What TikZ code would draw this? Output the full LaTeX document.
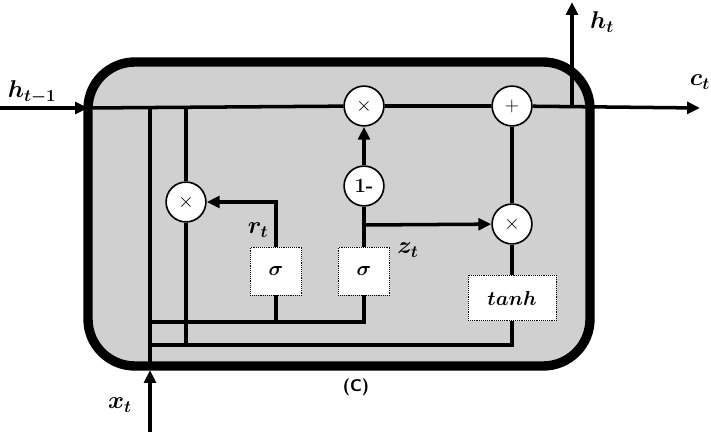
\documentclass[tikz,border=0pt]{standalone}
\usepackage{amsmath,bm}
\usetikzlibrary{arrows.meta}
\definecolor{cellgray}{RGB}{208,208,208}
\tikzstyle{op} = [draw, circle, fill=white, line width=1.4pt, minimum size=34, inner sep=0pt, font=\LARGE\bfseries]
\tikzstyle{gate} = [draw, densely dotted, line width=0.6pt, fill=white, inner sep=0pt, font=\LARGE\bfseries]
\begin{document}
\begin{tikzpicture}[x=0.03cm, y=-0.03cm, line width=3pt,
			arr/.style = {-{Triangle[length=11pt,width=10pt]}},
			lbl/.style = {font=\huge}]
			\useasboundingbox (0,0) rectangle (711,432);
			\draw[line width=8pt, fill=cellgray, rounded corners=40] (88,62) rectangle (590,366);
			% operators
			\node (mA)[op] at (364,106) {$\times$};
			\node (plus)[op] at (512,106) {$+$};
			\node (one)[op] at (364,186) {1-};
			\node (mR)[op] at (186,202) {$\times$};
			\node (mZ)[op] at (512,224) {$\times$};
			\node (sr)[gate, minimum width=44, minimum height=41] at (276,271) {$\bm{\sigma}$};
			\node (sz)[gate, minimum width=44, minimum height=41] at (364,271) {$\bm{\sigma}$};
			\node (th)[gate, minimum width=75, minimum height=39] at (512,298) {$\bm{tanh}$};
			\coordinate (hin) at (0,108);
			\coordinate (cout) at (700,108);
			\coordinate (hup) at (572,2);
			\coordinate (xin) at (150,432);
			% main line
			\draw[arr] (hin) -- (88,108);
			\draw (88,108) -- (mA) -- (plus);
			\draw[arr] (plus) -- (cout);
			\draw[arr] (572,108) -- (hup);
			% input and buses
			\draw[arr] (xin) -- (150,370);
			\draw (150,370) -- (150,108);
			\draw (186,108) -- (mR) -- (186,345);
			\draw (150,322) -- (364,322) -- (sz);
			\draw (276,322) -- (sr);
			\draw (150,345) -- (512,345) -- (th);
			% gates
			\draw[arr] (sr) |- (mR);
			\draw (sz) -- (one);
			\draw[arr] (one) -- (mA);
			\draw[arr] (364,225) -- (mZ);
			\draw (th) -- (mZ) -- (plus);
			% labels
			\node (lh)[lbl] at (32,92) {$\bm{h_{t-1}}$};
			\node (lc)[lbl] at (700,82) {$\bm{c_t}$};
			\node (lht)[lbl] at (602,22) {$\bm{h_t}$};
			\node (lx)[lbl] at (120,405) {$\bm{x_t}$};
			\node (lr)[lbl] at (258,230) {$\bm{r_t}$};
			\node (lz)[lbl] at (408,250) {$\bm{z_t}$};
			\node (lC)[font=\Large\bfseries\sffamily] at (356,387) {(C)};
		\end{tikzpicture}
\end{document}
